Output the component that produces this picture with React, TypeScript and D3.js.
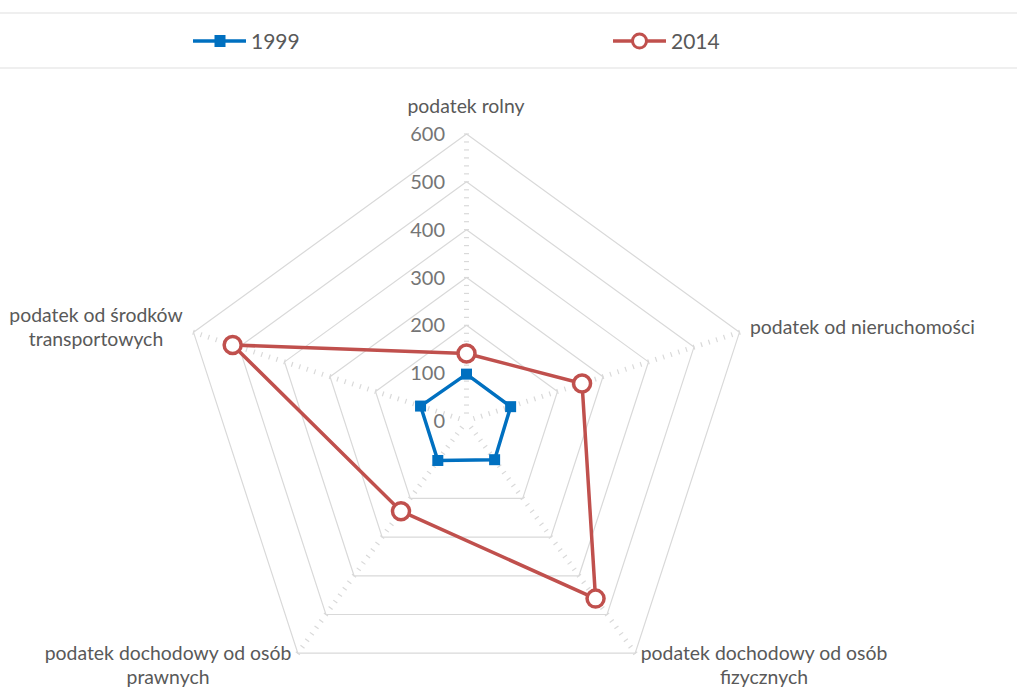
import React from "react";
import * as d3 from "d3";

const categories = [
  ["podatek rolny"],
  ["podatek od nieruchomości"],
  ["podatek dochodowy od osób", "fizycznych"],
  ["podatek dochodowy od osób", "prawnych"],
  ["podatek od środków", "transportowych"],
];
const values1999 = [98, 97, 100, 102, 101];
const values2014 = [141, 254, 459, 233, 514];
const tickValues = [0, 100, 200, 300, 400, 500, 600];
const seriesNames = ["1999", "2014"];

const W = 1017;
const H = 687;
const cx = 466.5;
const cy = 421;
const R = 287;
const FONT = "Lato, 'Open Sans', sans-serif";

export default function App() {
  const r = d3.scaleLinear().domain([0, 600]).range([0, R]);
  const n = categories.length;
  const ang = (i: number) => -Math.PI / 2 + (i * 2 * Math.PI) / n;
  const pt = (i: number, v: number): [number, number] => [
    cx + r(v) * Math.cos(ang(i)),
    cy + r(v) * Math.sin(ang(i)),
  ];
  const ringPath = (v: number) =>
    d3.line()(d3.range(n + 1).map((i) => pt(i % n, v))) as string;
  const seriesPath = (vals: number[]) =>
    d3.line()([...vals, vals[0]].map((v, i) => pt(i % n, v))) as string;

  const minor: number[] = [];
  for (let v = 0; v <= 600 + 1e-6; v += 100 / 6) {
    if (v > 0.5) minor.push(v);
  }

  const labelPos: { x: number; y: number; anchor: string }[] = [
    { x: 466, y: 113, anchor: "middle" },
    { x: 750, y: 334, anchor: "start" },
    { x: 764, y: 660, anchor: "middle" },
    { x: 168, y: 660, anchor: "middle" },
    { x: 96, y: 322, anchor: "middle" },
  ];

  return (
    <svg
      width={W}
      height={H}
      style={{ position: "absolute", left: 0, top: 0, background: "#fff" }}
      fontFamily={FONT}
    >
      <rect x={0} y={0} width={W} height={H} fill="#fff" />
      <line x1={0} x2={W} y1={13} y2={13} stroke="#efefef" strokeWidth={2} />
      <line x1={0} x2={W} y1={68} y2={68} stroke="#efefef" strokeWidth={2} />
      <g>
        <line x1={193} x2={246} y1={41} y2={41} stroke="#0070C0" strokeWidth={3.5} />
        <rect x={214.5} y={35} width={11} height={12} fill="#0070C0" />
        <text x={251} y={48.5} fontSize={21} fill="#595959">
          {seriesNames[0]}
        </text>
        <line x1={613} x2={666} y1={41} y2={41} stroke="#C0504D" strokeWidth={3.5} />
        <circle cx={639.5} cy={41} r={7} fill="#fff" stroke="#C0504D" strokeWidth={3} />
        <text x={671} y={48.5} fontSize={21} fill="#595959">
          {seriesNames[1]}
        </text>
      </g>

      {tickValues.slice(1).map((v) => (
        <path key={v} d={ringPath(v)} fill="none" stroke="#d9d9d9" strokeWidth={1.2} />
      ))}
      {d3.range(n).map((i) =>
        minor.map((v, k) => {
          const [x, y] = pt(i, v);
          const a = ang(i) + Math.PI / 2;
          const dx = 2.5 * Math.cos(a);
          const dy = 2.5 * Math.sin(a);
          return (
            <line
              key={i + "-" + k}
              x1={x - dx}
              y1={y - dy}
              x2={x + dx}
              y2={y + dy}
              stroke="#d9d9d9"
              strokeWidth={1.2}
            />
          );
        })
      )}
      {tickValues.map((v) => (
        <text
          key={v}
          x={445}
          y={cy - r(v) + 7}
          textAnchor="end"
          fontSize={20}
          fill="#757575"
        >
          {v}
        </text>
      ))}

      {categories.map((lines, i) => (
        <text
          key={i}
          x={labelPos[i].x}
          y={labelPos[i].y}
          textAnchor={labelPos[i].anchor as any}
          fontSize={19.4}
          fill="#595959"
        >
          {lines.map((l, j) => (
            <tspan key={j} x={labelPos[i].x} dy={j === 0 ? 0 : 24}>
              {l}
            </tspan>
          ))}
        </text>
      ))}

      <path d={seriesPath(values1999)} fill="none" stroke="#0070C0" strokeWidth={3.5} strokeLinejoin="round" />
      {values1999.map((v, i) => {
        const [x, y] = pt(i, v);
        return <rect key={i} x={x - 5.5} y={y - 5.5} width={11} height={11} fill="#0070C0" />;
      })}
      <path d={seriesPath(values2014)} fill="none" stroke="#C0504D" strokeWidth={3.5} strokeLinejoin="round" />
      {values2014.map((v, i) => {
        const [x, y] = pt(i, v);
        return <circle key={i} cx={x} cy={y} r={8.5} fill="#fff" stroke="#C0504D" strokeWidth={3.5} />;
      })}
    </svg>
  );
}
